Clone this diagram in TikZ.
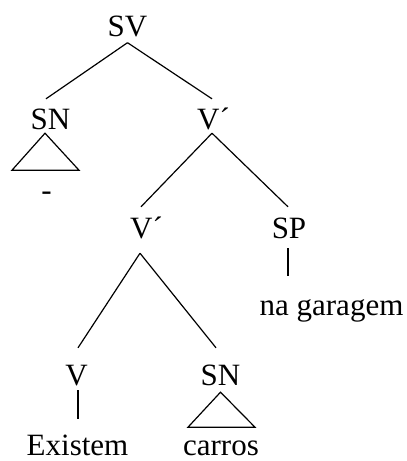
\documentclass[tikz,border=0pt]{standalone}
\usepackage{fontspec}
\setmainfont{Liberation Serif}
\begin{document}
\begin{tikzpicture}[
    x=1pt,y=-1pt,
    every node/.style={font=\fontsize{31}{37}\selectfont,inner sep=0pt,
        anchor=base,text height=21pt,text depth=0pt},
    branch/.style={line width=1.2pt},
    roof/.style={line width=1.2pt,line join=miter}]
    \useasboundingbox (0,0) rectangle (407,461);
    % labels, placed on their baselines
    \node (sv) at (127.5,36) {SV};
    \node (sn1) at (50.5,129) {SN};
    \node (vbar1) at (213.5,129) {V´};
    \node (dash) at (46.5,200) {-};
    \node (vbar2) at (146.5,238) {V´};
    \node (sp) at (289,238) {SP};
    \node (nagar) at (331.5,315) {na garagem};
    \node (v) at (76.5,385) {V};
    \node (sn2) at (220.5,385) {SN};
    \node (exist) at (77.5,455) {Existem};
    \node (carros) at (221,455) {carros};
    % branches
    \draw[branch] ([yshift=-6.5pt]sv.south) -- ([xshift=-4.5pt,yshift=9pt]sn1.north);
    \draw[branch] ([yshift=-6.5pt]sv.south) -- ([xshift=-1.5pt,yshift=9pt]vbar1.north);
    \draw[branch] ([xshift=-1.5pt,yshift=-4pt]vbar1.south)
        -- ([xshift=-5.5pt,yshift=10pt]vbar2.north);
    \draw[branch] ([xshift=-1.5pt,yshift=-4pt]vbar1.south)
        -- ([xshift=-1pt,yshift=10pt]sp.north);
    \draw[branch] ([xshift=-6.5pt,yshift=-15pt]vbar2.south)
        -- ([xshift=1.5pt,yshift=16pt]v.north);
    \draw[branch] ([xshift=-6.5pt,yshift=-15pt]vbar2.south)
        -- ([xshift=-4.5pt,yshift=16pt]sn2.north);
    \draw[branch] ([xshift=-1pt,yshift=-10pt]sp.south)
        -- ([xshift=-1pt,yshift=18pt]sp.south |- nagar.north);
    \draw[branch] ([xshift=1.5pt,yshift=-5pt]v.south)
        -- ([xshift=1.5pt,yshift=15pt]v.south |- exist.north);
    % triangles
    \draw[roof] ([xshift=-5.5pt,yshift=-4pt]sn1.south) -- ++(-33,37) -- ++(67,0) -- cycle;
    \draw[roof] ([yshift=-7pt]sn2.south) -- ++(-32.5,35) -- ++(67,0) -- cycle;
\end{tikzpicture}
\end{document}
